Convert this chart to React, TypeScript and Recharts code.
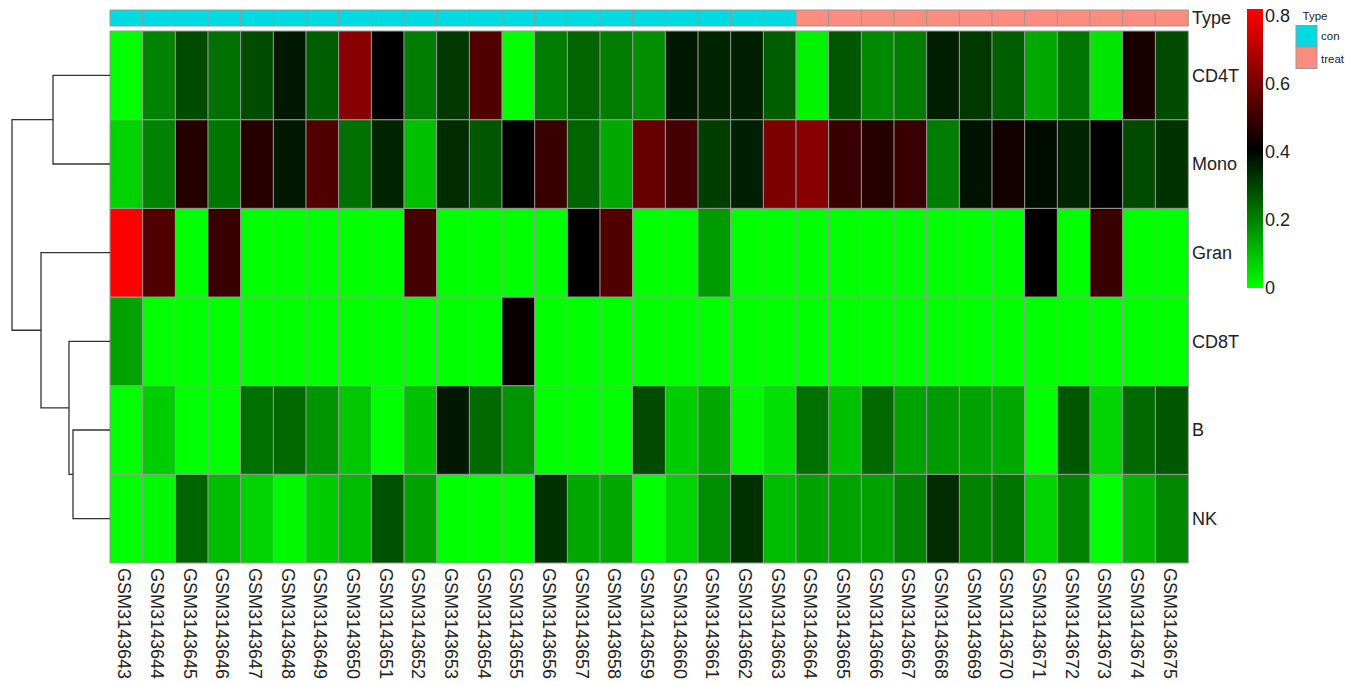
import React from "react";
import { BarChart, Bar, Cell, XAxis, YAxis, ScatterChart, Scatter } from "recharts";

const samples = [
  "GSM3143643", "GSM3143644", "GSM3143645", "GSM3143646", "GSM3143647", "GSM3143648",
  "GSM3143649", "GSM3143650", "GSM3143651", "GSM3143652", "GSM3143653", "GSM3143654",
  "GSM3143655", "GSM3143656", "GSM3143657", "GSM3143658", "GSM3143659", "GSM3143660",
  "GSM3143661", "GSM3143662", "GSM3143663", "GSM3143664", "GSM3143665", "GSM3143666",
  "GSM3143667", "GSM3143668", "GSM3143669", "GSM3143670", "GSM3143671", "GSM3143672",
  "GSM3143673", "GSM3143674", "GSM3143675",
];

const sampleType = [
  "con", "con", "con", "con", "con", "con", "con", "con", "con", "con", "con",
  "con", "con", "con", "con", "con", "con", "con", "con", "con", "con",
  "treat", "treat", "treat", "treat", "treat", "treat", "treat", "treat", "treat",
  "treat", "treat", "treat",
];

// rows in display order (top to bottom)
const cellTypes = ["CD4T", "Mono", "Gran", "CD8T", "B", "NK"];

const cd4t = [0, 0.2, 0.29, 0.23, 0.29, 0.37, 0.26, 0.63, 0.41, 0.21, 0.32, 0.54, 0, 0.21, 0.25, 0.21, 0.18,
  0.37, 0.35, 0.36, 0.26, 0.02, 0.27, 0.19, 0.21, 0.36, 0.32, 0.26, 0.14, 0.22, 0.04, 0.45, 0.29];
const mono = [0.07, 0.2, 0.47, 0.22, 0.47, 0.37, 0.54, 0.23, 0.35, 0.1, 0.34, 0.27, 0.41, 0.5, 0.25, 0.14, 0.57,
  0.52, 0.31, 0.36, 0.61, 0.63, 0.5, 0.47, 0.5, 0.21, 0.38, 0.44, 0.39, 0.35, 0.41, 0.29, 0.33];
const gran = [0.82, 0.54, 0, 0.5, 0, 0, 0, 0, 0, 0.52, 0, 0, 0, 0, 0.41, 0.54, 0,
  0, 0.16, 0, 0, 0, 0, 0, 0, 0, 0, 0, 0.41, 0, 0.5, 0, 0];
const cd8t = [0.15, 0, 0, 0, 0, 0, 0, 0, 0, 0, 0, 0, 0.42, 0, 0, 0, 0,
  0, 0, 0, 0, 0, 0, 0, 0, 0, 0, 0, 0, 0, 0, 0, 0];
const bcell = [0, 0.08, 0, 0, 0.23, 0.24, 0.17, 0.09, 0, 0.1, 0.37, 0.24, 0.17, 0, 0, 0, 0.29,
  0.08, 0.14, 0.01, 0.05, 0.23, 0.1, 0.24, 0.15, 0.16, 0.15, 0.14, 0, 0.27, 0.07, 0.24, 0.27];
const nk = [0, 0.01, 0.25, 0.11, 0.07, 0.01, 0.08, 0.11, 0.28, 0.15, 0, 0, 0, 0.33, 0.14, 0.14, 0,
  0.07, 0.18, 0.33, 0.11, 0.15, 0.15, 0.15, 0.2, 0.34, 0.2, 0.22, 0.07, 0.2, 0, 0.12, 0.19];

const rowValues: Record<string, number[]> = {
  CD4T: cd4t, Mono: mono, Gran: gran, CD8T: cd8t, B: bcell, NK: nk,
};

const typeColors: Record<string, string> = { con: "#00DAE0", treat: "#FA8C80" };
const legendTicks = [0, 0.2, 0.4, 0.6, 0.8];
const scaleMin = 0;
const scaleMax = 0.82;

// row clustering: merge order and heights
const merges = [
  { id: "m1", left: "B", right: "NK", height: 0.755 },
  { id: "m2", left: "CD8T", right: "m1", height: 0.837 },
  { id: "m3", left: "Gran", right: "m2", height: 1.408 },
  { id: "m4", left: "CD4T", right: "Mono", height: 1.163 },
  { id: "root", left: "m4", right: "m3", height: 2.0 },
];

const font = "'Liberation Sans', Arial, Helvetica, sans-serif";
const textColor = "#222222";
const gridColor = "#999999";

// green -> black -> red ramp
function heatColor(v: number) {
  const t = Math.min(1, Math.max(0, (v - scaleMin) / (scaleMax - scaleMin)));
  if (t <= 0.5) {
    const g = Math.round(255 * (1 - t / 0.5));
    return `rgb(0,${g},0)`;
  }
  const r = Math.round(255 * ((t - 0.5) / 0.5));
  return `rgb(${r},0,0)`;
}

const heatTable = samples.map((s) => {
  const row: Record<string, string | number> = { sample: s };
  cellTypes.forEach((c) => (row[c] = 1));
  return row;
});

const typeTable = samples.map((s, i) => ({ sample: s, type: sampleType[i], band: 1 }));
const legendBar = [{ name: "scale", span: [scaleMin, scaleMax] }];

// dendrogram polylines built from the merge list
const nodePos: Record<string, { h: number; y: number }> = {};
cellTypes.forEach((c, i) => (nodePos[c] = { h: 0, y: i + 0.5 }));
const dendroSegments = merges.map((m) => {
  const a = nodePos[m.left];
  const b = nodePos[m.right];
  nodePos[m.id] = { h: m.height, y: (a.y + b.y) / 2 };
  return {
    id: m.id,
    points: [
      { h: a.h, y: a.y },
      { h: m.height, y: a.y },
      { h: m.height, y: b.y },
      { h: b.h, y: b.y },
    ],
  };
});

const rowTicks = cellTypes.map((_, i) => i + 0.5);

const SampleTick = (props: any) => {
  const { x, y, payload } = props;
  return (
    <text
      x={x}
      y={y}
      dy="0.45em"
      transform={`rotate(90, ${x}, ${y})`}
      textAnchor="start"
      fontSize={18}
      fill={textColor}
    >
      {payload.value}
    </text>
  );
};

const Blank = () => <g />;

export default function App() {
  return (
    <div style={{ position: "absolute", left: 0, top: 0, width: 1362, height: 686, fontFamily: font, background: "#fff" }}>
      {/* heatmap body */}
      <div style={{ position: "absolute", left: 0, top: 0 }}>
        <BarChart
          width={1362}
          height={686}
          data={heatTable}
          margin={{ top: 31, right: 94, bottom: 3, left: 110 }}
          barCategoryGap={0}
          barGap={0}
        >
          <XAxis
            dataKey="sample"
            type="category"
            height={120}
            interval={0}
            tickSize={4}
            tickMargin={1}
            axisLine={false}
            tickLine={false}
            tick={(p: any) => <SampleTick {...p} />}
          />
          <YAxis
            orientation="right"
            type="number"
            domain={[0, 6]}
            ticks={rowTicks}
            width={80}
            tickSize={2}
            tickMargin={2}
            axisLine={false}
            tickLine={false}
            tick={{ fontSize: 18, fill: textColor }}
            tickFormatter={(v: number) => cellTypes[Math.round(5.5 - v)]}
          />
          {[...cellTypes].reverse().map((ct) => (
            <Bar key={ct} dataKey={ct} stackId="cells" isAnimationActive={false}>
              {rowValues[ct].map((v, i) => (
                <Cell key={i} fill={heatColor(v)} stroke={gridColor} strokeWidth={1} />
              ))}
            </Bar>
          ))}
        </BarChart>
      </div>

      {/* Type annotation strip */}
      <div style={{ position: "absolute", left: 0, top: 0 }}>
        <BarChart
          width={1362}
          height={30}
          data={typeTable}
          margin={{ top: 10, right: 94, bottom: 4, left: 110 }}
          barCategoryGap={0}
          barGap={0}
        >
          <XAxis dataKey="sample" hide />
          <YAxis
            orientation="right"
            type="number"
            domain={[0, 1]}
            ticks={[0.5]}
            width={80}
            tickSize={2}
            tickMargin={2}
            axisLine={false}
            tickLine={false}
            tick={{ fontSize: 18, fill: textColor }}
            tickFormatter={() => "Type"}
          />
          <Bar dataKey="band" isAnimationActive={false}>
            {typeTable.map((d, i) => (
              <Cell key={i} fill={typeColors[d.type]} stroke={gridColor} strokeWidth={1} />
            ))}
          </Bar>
        </BarChart>
      </div>

      {/* row dendrogram */}
      <div style={{ position: "absolute", left: 0, top: 0 }}>
        <ScatterChart width={110} height={686} margin={{ top: 31, right: 0, bottom: 123, left: 12 }}>
          <XAxis type="number" dataKey="h" domain={[0, 2]} reversed hide />
          <YAxis type="number" dataKey="y" domain={[0, 6]} reversed hide />
          {dendroSegments.map((seg) => (
            <Scatter
              key={seg.id}
              data={seg.points}
              line={{ stroke: "#333333", strokeWidth: 1.3 }}
              lineType="joint"
              shape={Blank}
              isAnimationActive={false}
            />
          ))}
        </ScatterChart>
      </div>

      {/* colour key */}
      <div style={{ position: "absolute", left: 1240, top: 0 }}>
        <BarChart
          width={110}
          height={300}
          data={legendBar}
          margin={{ top: 9, right: 27, bottom: 12, left: 7 }}
          barCategoryGap={0}
        >
          <defs>
            <linearGradient id="heatGradient" x1="0" y1="1" x2="0" y2="0">
              <stop offset="0" stopColor={heatColor(scaleMin)} />
              <stop offset="0.5" stopColor={heatColor((scaleMin + scaleMax) / 2)} />
              <stop offset="1" stopColor={heatColor(scaleMax)} />
            </linearGradient>
          </defs>
          <XAxis dataKey="name" hide />
          <YAxis
            orientation="right"
            type="number"
            domain={[scaleMin, scaleMax]}
            allowDataOverflow
            ticks={legendTicks}
            width={60}
            tickSize={1}
            tickMargin={1}
            axisLine={false}
            tickLine={false}
            tick={{ fontSize: 18, fill: textColor }}
            tickFormatter={(v: number) => String(v)}
          />
          <Bar dataKey="span" fill="url(#heatGradient)" isAnimationActive={false} />
        </BarChart>
      </div>

      {/* Type legend */}
      <svg style={{ position: "absolute", left: 1290, top: 0 }} width={72} height={80}>
        <text x={12.5} y={19.5} fontSize={11.5} fill={textColor}>Type</text>
        {Object.keys(typeColors).map((t, i) => (
          <g key={t}>
            <rect x={6} y={25.5 + i * 21.5} width={21} height={21.5} fill={typeColors[t]} stroke={gridColor} strokeWidth={1} />
            <text x={31} y={40 + i * 23} fontSize={11.5} fill={textColor}>{t}</text>
          </g>
        ))}
      </svg>
    </div>
  );
}
